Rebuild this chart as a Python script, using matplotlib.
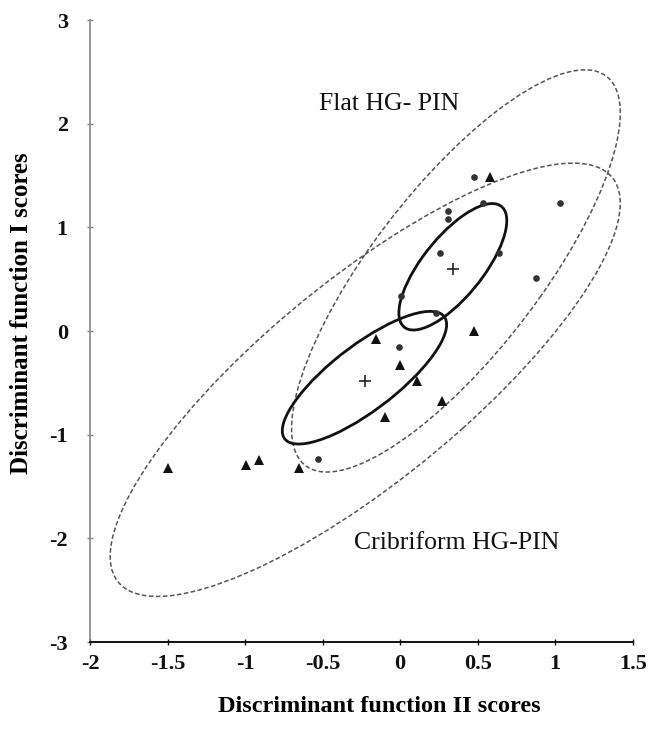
import numpy as np
import matplotlib

matplotlib.use("Agg")
import matplotlib.pyplot as plt
from matplotlib.patches import Ellipse

# flat HG-PIN cases (circles)
flat_x = [0.477, 0.534, 1.03, 0.31, 0.31, 0.258, 0.639, 0.875, 0.006, 0.232, -0.01, -0.527]
flat_y = [1.49, 1.24, 1.24, 1.16, 1.08, 0.75, 0.75, 0.51, 0.34, 0.17, -0.15, -1.23]

# cribriform HG-PIN cases (triangles)
crib_x = [0.577, 0.477, -0.155, 0.0, 0.107, 0.27, -0.10, -1.50, -0.995, -0.91, -0.65]
crib_y = [1.49, 0.0, -0.08, -0.33, -0.48, -0.67, -0.83, -1.32, -1.29, -1.24, -1.32]

# group centroids
cent_x = [0.344, -0.226]
cent_y = [0.60, -0.48]

# ellipses: centre, spread in x / y, correlation  (flat, cribriform)
inner_cx = [0.34, -0.23]
inner_cy = [0.62, -0.45]
inner_sx = [0.348, 0.53]
inner_sy = [0.61, 0.64]
inner_r = [0.73, 0.80]

outer_cx = [0.36, -0.225]
outer_cy = [0.58, -0.47]
outer_sx = [1.06, 1.645]
outer_sy = [1.94, 2.09]
outer_r = [0.785, 0.815]

group_names = ["Flat HG- PIN", "Cribriform HG-PIN"]
name_x = [-0.07, 0.366]
name_y = [2.19, -2.04]


def make_ellipse(cx, cy, sx, sy, r, **kw):
    cov = np.array([[sx * sx, r * sx * sy], [r * sx * sy, sy * sy]])
    vals, vecs = np.linalg.eigh(cov)
    angle = np.degrees(np.arctan2(vecs[1, 1], vecs[0, 1]))
    return Ellipse((cx, cy), 2 * np.sqrt(vals[1]), 2 * np.sqrt(vals[0]), angle=angle, fill=False, **kw)


plt.rcParams["font.family"] = ["Liberation Serif", "DejaVu Serif"]
plt.rcParams["axes.unicode_minus"] = False

fig = plt.figure(figsize=(6.57, 7.30), dpi=100)
ax = fig.add_axes([0.137, 0.1205, 0.826, 0.852])

for i in range(2):
    ax.add_patch(make_ellipse(outer_cx[i], outer_cy[i], outer_sx[i], outer_sy[i], outer_r[i],
                              edgecolor="#555555", lw=1.1, linestyle=(0, (3, 1.6))))
    ax.add_patch(make_ellipse(inner_cx[i], inner_cy[i], inner_sx[i], inner_sy[i], inner_r[i],
                              edgecolor="#111111", lw=2.0))

ax.plot(flat_x, flat_y, "o", color="#333333", markersize=4.8, markeredgewidth=0)
ax.plot(crib_x, crib_y, "^", color="#111111", markersize=6.6, markeredgewidth=0)
ax.plot(cent_x, cent_y, "+", color="#222222", markersize=9, markeredgewidth=1.2)

for name, tx, ty in zip(group_names, name_x, name_y):
    ax.text(tx, ty, name, fontsize=18.5, ha="center", va="center", color="#111111")

ax.set_xlim(-2, 1.5)
ax.set_ylim(-3, 3)
ax.set_xticks([-2, -1.5, -1, -0.5, 0, 0.5, 1, 1.5])
ax.set_xticklabels(["-2", "-1.5", "-1", "-0.5", "0", "0.5", "1", "1.5"])
ax.set_yticks([-3, -2, -1, 0, 1, 2, 3])
ax.set_yticklabels(["-3", "-2", "-1", "0", "1", "2", "3"])

for lab in ax.get_xticklabels() + ax.get_yticklabels():
    lab.set_fontweight("bold")
    lab.set_fontsize(16)

ax.spines["top"].set_visible(False)
ax.spines["right"].set_visible(False)
ax.spines["left"].set_color("#888888")
ax.spines["left"].set_linewidth(1.2)
ax.spines["bottom"].set_color("#111111")
ax.spines["bottom"].set_linewidth(1.4)
ax.tick_params(axis="x", direction="inout", length=5, width=1, pad=6, colors="#111111")
ax.tick_params(axis="y", direction="inout", length=4, width=1, pad=14, colors="#111111")
ax.tick_params(axis="y", color="#888888")

fig.text(0.578, 0.018, "Discriminant function II scores", fontsize=17.5, fontweight="bold",
         ha="center", va="bottom")
fig.text(0.033, 0.571, "Discriminant function I scores", fontsize=18, fontweight="bold",
         ha="center", va="center", rotation=90)

fig.savefig("out.png", dpi=100)
